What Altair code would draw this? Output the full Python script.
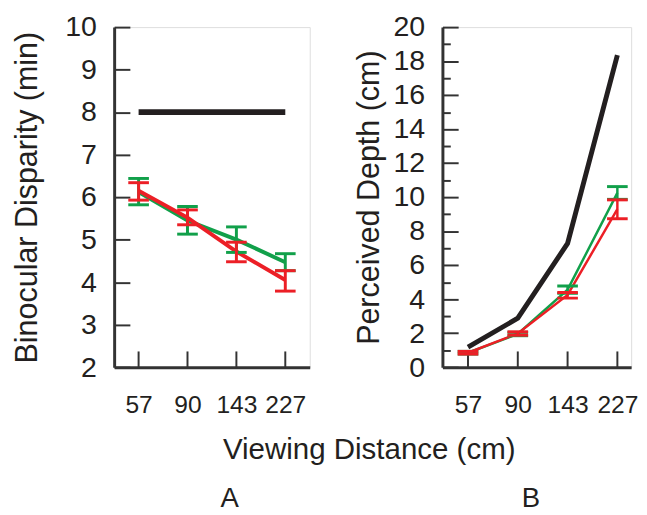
import altair as alt
import pandas as pd

distances = ["57", "90", "143", "227"]

# Panel A: binocular disparity (min)
a_predicted = [8.0, 8.0, 8.0, 8.0]
a_green = [6.12, 5.45, 5.00, 4.47]
a_green_lo = [5.82, 5.13, 4.70, 4.27]
a_green_hi = [6.44, 5.78, 5.30, 4.67]
a_red = [6.15, 5.52, 4.72, 4.05]
a_red_lo = [5.93, 5.35, 4.48, 3.79]
a_red_hi = [6.34, 5.70, 4.94, 4.27]

# Panel B: perceived depth (cm)
b_predicted = [1.18, 2.88, 7.28, 18.35]
b_green = [0.85, 1.95, 4.56, 10.25]
b_green_lo = [0.77, 1.85, 4.34, 9.87]
b_green_hi = [0.93, 2.05, 4.78, 10.62]
b_red = [0.85, 1.98, 4.25, 9.29]
b_red_lo = [0.77, 1.88, 4.06, 8.73]
b_red_hi = [0.93, 2.08, 4.39, 9.84]

# axis tick positions (major ones labelled, minor ones unlabelled)
a_ticks = [2, 2.5, 3, 3.5, 4, 4.5, 5, 5.5, 6, 6.5, 7, 7.5, 8, 8.5, 9, 9.5, 10]
b_ticks = [0, 1, 2, 3, 4, 5, 6, 7, 8, 9, 10, 11, 12, 13, 14, 15, 16, 17, 18, 19, 20]

BLACK = "#231f20"
GREEN = "#11a04a"
RED = "#ec1f26"
AXIS = "#333333"
FONT = "Liberation Sans"
H = 346


def panel(pred, g, glo, ghi, r, rlo, rhi, domain, width, xpad, xalign,
          yaxis, xaxis, label, label_offset, label_dx, pred_w, ser_w, err_w):
    xs = alt.Scale(type="point", domain=distances, padding=xpad, align=xalign)
    ys = alt.Scale(domain=domain, nice=False, zero=False)

    def X():
        return alt.X("dist:N", scale=xs, axis=xaxis, sort=distances)

    def Y(f="v"):
        return alt.Y(f + ":Q", scale=ys, axis=yaxis)

    xt_df = pd.DataFrame({"dist": distances})
    xt = alt.Chart(xt_df).mark_rule(color=AXIS, strokeWidth=2).encode(
        x=X(), y=alt.value(H), y2=alt.value(H - 16))

    pdf = pd.DataFrame({"dist": distances, "v": pred})
    gdf = pd.DataFrame({"dist": distances, "v": g, "lo": glo, "hi": ghi})
    rdf = pd.DataFrame({"dist": distances, "v": r, "lo": rlo, "hi": rhi})
    gcap = pd.DataFrame({"dist": distances * 2, "v": glo + ghi})
    rcap = pd.DataFrame({"dist": distances * 2, "v": rlo + rhi})

    pline = alt.Chart(pdf).mark_line(color=BLACK, strokeWidth=pred_w).encode(x=X(), y=Y())
    gline = alt.Chart(gdf).mark_line(color=GREEN, strokeWidth=ser_w).encode(x=X(), y=Y())
    rline = alt.Chart(rdf).mark_line(color=RED, strokeWidth=ser_w).encode(x=X(), y=Y())
    gerr = alt.Chart(gdf).mark_rule(color=GREEN, strokeWidth=err_w).encode(
        x=X(), y=Y("lo"), y2=alt.Y2("hi:Q"))
    rerr = alt.Chart(rdf).mark_rule(color=RED, strokeWidth=err_w).encode(
        x=X(), y=Y("lo"), y2=alt.Y2("hi:Q"))
    gcaps = alt.Chart(gcap).mark_tick(color=GREEN, orient="horizontal", size=21,
                                      thickness=3, opacity=1).encode(x=X(), y=Y())
    rcaps = alt.Chart(rcap).mark_tick(color=RED, orient="horizontal", size=21,
                                      thickness=3, opacity=1).encode(x=X(), y=Y())

    return alt.layer(xt, pline, gline, rline, gerr, gcaps, rerr, rcaps).properties(
        width=width, height=H,
        title=alt.TitleParams(label, orient="bottom", frame="group", anchor="middle",
                              fontSize=28, fontWeight="normal", font=FONT, color=BLACK,
                              offset=label_offset, dx=label_dx))


def yax(title, pad, values, step):
    major = f"datum.value % {step} === 0"
    return alt.Axis(values=values, ticks=False,
                    grid=True, gridColor=AXIS, gridWidth=2, gridOpacity=1,
                    gridDash={"condition": {"test": major, "value": [16, 1000]},
                              "value": [8, 1000]},
                    labelExpr=f"{major} ? datum.label : ''", labelOverlap=False,
                    domainColor=AXIS, domainWidth=3,
                    labelFontSize=29, labelPadding=18, labelColor=BLACK, labelFont=FONT,
                    title=title, titleFontSize=31, titleFontWeight="normal", titleFont=FONT,
                    titleColor=BLACK, titlePadding=pad, format="d")


ya = yax("Binocular Disparity (min)", 22, a_ticks, 1)
yb = yax("Perceived Depth (cm)", 8, b_ticks, 2)

xa = alt.Axis(ticks=False, grid=False, domainColor=AXIS, domainWidth=3, labelAngle=0,
              labelFontSize=25, labelPadding=26, labelColor=BLACK, labelFont=FONT,
              title="Viewing Distance (cm)", titleFontSize=30, titleFontWeight="normal",
              titleFont=FONT, titleColor=BLACK, titlePadding=18, titleX=259)
xb = alt.Axis(ticks=False, grid=False, domainColor=AXIS, domainWidth=3, labelAngle=0,
              labelFontSize=25, labelPadding=26, labelColor=BLACK, labelFont=FONT,
              title=None)

pa = panel(a_predicted, a_green, a_green_lo, a_green_hi, a_red, a_red_lo, a_red_hi,
           [2, 10], 199, 0.5, 0.5, ya, xa, "A", 21, 18, 6, 4, 3)
pb = panel(b_predicted, b_green, b_green_lo, b_green_hi, b_red, b_red_lo, b_red_hi,
           [0, 20], 192, 0.395, 0.65, yb, xb, "B", 69, -6, 5, 2.5, 2.5)

chart = alt.hconcat(pa, pb, spacing=135, bounds="flush").properties(
    padding={"left": 3, "top": 0, "right": 0, "bottom": 0}
).configure_view(stroke=None).configure(background="white")

chart.save("out.html", embed_options={"renderer": "svg", "actions": False})
